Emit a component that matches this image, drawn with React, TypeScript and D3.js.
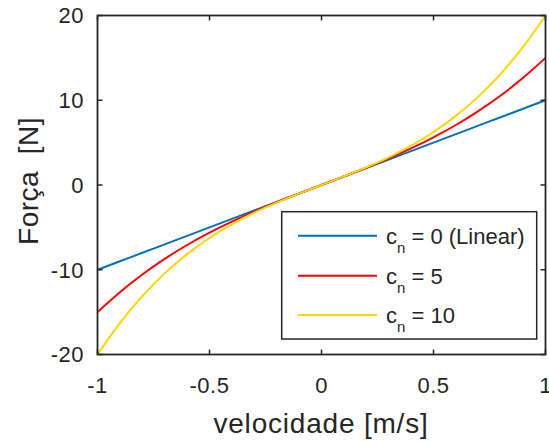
import React from "react";
import * as d3 from "d3";

const velocity = [-1, -0.9, -0.8, -0.7, -0.6, -0.5, -0.4, -0.3, -0.2, -0.1, 0, 0.1, 0.2, 0.3, 0.4, 0.5, 0.6, 0.7, 0.8, 0.9, 1];
const forceLinear = [-10, -9, -8, -7, -6, -5, -4, -3, -2, -1, 0, 1, 2, 3, 4, 5, 6, 7, 8, 9, 10];
const forceCn5 = [-15, -12.65, -10.56, -8.72, -7.08, -5.63, -4.32, -3.14, -2.04, -1.01, 0, 1.01, 2.04, 3.14, 4.32, 5.63, 7.08, 8.72, 10.56, 12.65, 15];
const forceCn10 = [-20, -16.29, -13.12, -10.43, -8.16, -6.25, -4.64, -3.27, -2.08, -1.01, 0, 1.01, 2.08, 3.27, 4.64, 6.25, 8.16, 10.43, 13.12, 16.29, 20];

const xTicks = [-1, -0.5, 0, 0.5, 1];
const yTicks = [-20, -10, 0, 10, 20];
const seriesNames = ["0 (Linear)", "5", "10"];
const seriesColors = ["#0072BD", "#FF0000", "#FFD700"];

export default function App() {
  const W = 549, H = 442;
  const left = 97.5, right = 545.5, top = 15.5, bottom = 354.5;
  const x = d3.scaleLinear().domain([-1, 1]).range([left, right]);
  const y = d3.scaleLinear().domain([-20, 20]).range([bottom, top]);
  const line = d3.line<number>()
    .x((_, i) => x(velocity[i]))
    .y((d) => y(d))
    .curve(d3.curveCatmullRom.alpha(0.5));
  const series = [forceLinear, forceCn5, forceCn10];
  const axisColor = "#262626";
  const font = "Liberation Sans, Arial, Helvetica, sans-serif";
  const tickLen = 5;

  const legX = 281.7, legY = 211.7, legW = 255, legH = 127.3;
  const rowY = [235.7, 275.7, 315];

  return (
    <svg width={W} height={H} style={{ position: "absolute", left: 0, top: 0 }} fontFamily={font}>
      <rect x={0} y={0} width={W} height={H} fill="#fff" />
      <rect x={left} y={top} width={right - left} height={bottom - top} fill="#fff" />
      {series.map((s, i) => (
        <path key={i} d={line(s) || ""} fill="none" stroke={seriesColors[i]} strokeWidth={2} />
      ))}
      <rect x={left} y={top} width={right - left} height={bottom - top} fill="none" stroke={axisColor} strokeWidth={1.8} />
      {xTicks.map((t) => (
        <g key={"x" + t}>
          <line x1={x(t)} x2={x(t)} y1={bottom} y2={bottom - tickLen} stroke={axisColor} strokeWidth={1.5} />
          <line x1={x(t)} x2={x(t)} y1={top} y2={top + tickLen} stroke={axisColor} strokeWidth={1.5} />
          <text x={x(t)} y={392.5} textAnchor="middle" fontSize={22} fill={axisColor} letterSpacing={0.5}>{String(t)}</text>
        </g>
      ))}
      {yTicks.map((t) => (
        <g key={"y" + t}>
          <line x1={left} x2={left + tickLen} y1={y(t)} y2={y(t)} stroke={axisColor} strokeWidth={1.5} />
          <line x1={right} x2={right - tickLen} y1={y(t)} y2={y(t)} stroke={axisColor} strokeWidth={1.5} />
          <text x={84} y={y(t)} dy="0.36em" textAnchor="end" fontSize={22} fill={axisColor} letterSpacing={0.5}>{String(t)}</text>
        </g>
      ))}
      <text x={321} y={433} textAnchor="middle" fontSize={28} fill={axisColor} letterSpacing={0.8}>velocidade [m/s]</text>
      <text transform="translate(38,181) rotate(-90)" textAnchor="middle" fontSize={28} fill={axisColor} letterSpacing={0.5} style={{ whiteSpace: "pre" }}>{"Força  [N]"}</text>
      <rect x={legX} y={legY} width={legW} height={legH} fill="#fff" stroke={axisColor} strokeWidth={1.5} />
      {seriesNames.map((n, i) => (
        <g key={n}>
          <line x1={298} x2={377} y1={rowY[i]} y2={rowY[i]} stroke={seriesColors[i]} strokeWidth={2} />
          <text x={386} y={rowY[i]} dy="0.36em" fontSize={22} fill={axisColor} style={{ whiteSpace: "pre" }}>
            c<tspan fontSize={15} dy={9}>n</tspan><tspan dy={-9}>{" = " + n}</tspan>
          </text>
        </g>
      ))}
    </svg>
  );
}
